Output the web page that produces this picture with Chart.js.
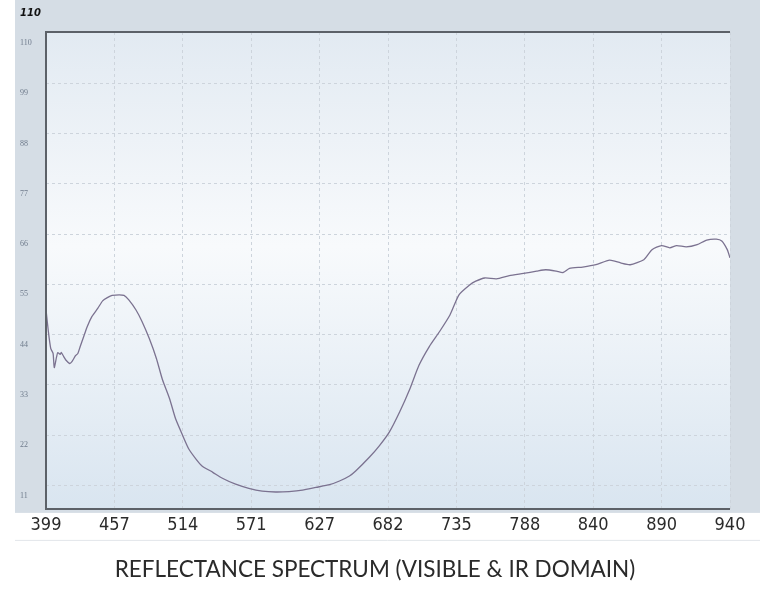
<!DOCTYPE html>
<html>
<head>
<meta charset="utf-8">
<script src="https://cdn.jsdelivr.net/npm/chart.js@4"></script>
<style>
  html, body { margin: 0; padding: 0; background: #ffffff; }
  #wrap { width: 760px; height: 595px; }
</style>
</head>
<body>
<div id="wrap"><canvas id="Spectrum"></canvas></div>
<script>
// tick labels (wavelength, nm) - spaced evenly on the detector axis
let xTickLabels = [399, 457, 514, 571, 627, 682, 735, 788, 840, 890, 940]
let yTickValues = [11, 22, 33, 44, 55, 66, 77, 88, 99, 110]

// reflectance curve
let wavelengths = [
    399, 401, 403, 405, 406, 408, 409, 411, 412, 414, 416, 419, 421, 424, 426, 428, 431, 434, 438, 443,
    447, 451, 455, 461, 465, 469, 475, 480, 486, 492, 497, 503, 508, 514, 519, 525, 530, 539, 547, 558,
    569, 580, 591, 602, 613, 624, 635, 643, 651, 656, 667, 675, 683, 691, 699, 706, 714, 722, 730, 737,
    745, 750, 757, 766, 776, 787, 797, 804, 812, 817, 822, 832, 842, 852, 860, 867, 877, 883, 890, 896,
    901, 908, 916, 923, 930, 934, 938, 940
]
let reflectance = [
    49.5, 44.7, 41.0, 39.9, 36.8, 39.2, 40.1, 39.7, 40.1, 39.2, 38.4, 37.7, 38.1, 39.4, 39.9, 41.4, 43.6, 45.8, 48.0, 49.8,
    51.4, 52.1, 52.6, 52.7, 52.6, 51.6, 49.4, 46.9, 43.2, 38.8, 34.2, 30.0, 25.6, 21.9, 19.0, 16.8, 15.3, 13.9, 12.6, 11.3,
    10.4, 9.8, 9.6, 9.7, 10.0, 10.6, 11.2, 12.0, 13.1, 14.2, 17.2, 19.7, 22.7, 27.1, 32.2, 37.3, 41.4, 44.7, 48.3, 52.7,
    54.8, 55.7, 56.4, 56.2, 56.9, 57.4, 57.9, 58.2, 57.9, 57.6, 58.5, 58.8, 59.3, 60.3, 59.7, 59.3, 60.4, 62.6, 63.5, 63.0,
    63.5, 63.2, 63.7, 64.7, 64.9, 64.5, 62.6, 60.8
]

// the wavelength axis is not linear: place each nm between its two tick labels
function nmToSlot(nm) {
    for (let i = 0; i < xTickLabels.length - 1; i++) {
        if (nm <= xTickLabels[i + 1]) {
            return i + (nm - xTickLabels[i]) / (xTickLabels[i + 1] - xTickLabels[i])
        }
    }
    return xTickLabels.length - 1
}

let points = wavelengths.map((nm, i) => ({ x: nmToSlot(nm), y: reflectance[i] }))

const backdrop = {
    id: 'backdrop',
    beforeDraw(chart) {
        const c = chart.ctx
        const a = chart.chartArea
        c.save()
        c.fillStyle = '#ffffff'
        c.fillRect(0, 0, chart.width, chart.height)
        c.fillStyle = '#d5dde5'
        c.fillRect(15, 0, chart.width - 15, a.bottom + 4)
        let g = c.createLinearGradient(0, a.top, 0, a.bottom)
        g.addColorStop(0, '#e2eaf2')
        g.addColorStop(0.45, '#f8fafc')
        g.addColorStop(1, '#d9e5f0')
        c.fillStyle = g
        c.fillRect(a.left, a.top, a.right - a.left, a.bottom - a.top)
        // faint rule under the wavelength labels
        c.strokeStyle = '#e2e6ea'
        c.lineWidth = 1
        c.beginPath()
        c.moveTo(15, a.bottom + 31.5)
        c.lineTo(chart.width, a.bottom + 31.5)
        c.stroke()
        c.restore()
    },
    afterDraw(chart) {
        const c = chart.ctx
        const a = chart.chartArea
        c.save()
        c.strokeStyle = '#5c6168'
        c.lineWidth = 2
        c.beginPath()
        c.moveTo(a.right, a.top)
        c.lineTo(a.left, a.top)
        c.lineTo(a.left, a.bottom)
        c.lineTo(a.right, a.bottom)
        c.stroke()
        c.restore()
    }
}

const ctx = document.getElementById('Spectrum')

let chart = new Chart(ctx, {
    type: 'line',
    data: {
        datasets: [{
            label: 'reflectance',
            data: points,
            borderColor: '#7b7290',
            borderWidth: 1.3,
            pointRadius: 0,
            tension: 0.2,
            fill: false
        }]
    },
    options: {
        animation: false,
        responsive: true,
        maintainAspectRatio: false,
        layout: { padding: { left: 20, right: 30, top: 0, bottom: 0 } },
        plugins: {
            legend: { display: false },
            tooltip: { enabled: false },
            subtitle: {
                display: true,
                text: '110',
                position: 'top',
                align: 'start',
                color: '#111111',
                font: { family: 'DejaVu Sans', size: 10, weight: 'bold', style: 'italic' },
                padding: { top: 7, bottom: 13 }
            },
            title: {
                display: true,
                text: 'REFLECTANCE SPECTRUM (VISIBLE & IR DOMAIN)',
                position: 'bottom',
                color: '#2a2a2a',
                font: { family: 'Lato', size: 22.5, weight: 'normal' },
                padding: { top: 14, bottom: 11.5 }
            }
        },
        scales: {
            x: {
                type: 'linear',
                min: 0,
                max: xTickLabels.length - 1,
                afterBuildTicks: (scale) => {
                    scale.ticks = xTickLabels.map((v, i) => ({ value: i }))
                },
                ticks: {
                    callback: (v) => xTickLabels[v],
                    color: '#2b2b2b',
                    font: { family: "'Liberation Sans Narrow', 'DejaVu Sans Condensed', 'Roboto'", size: 18 },
                    padding: 6,
                    maxRotation: 0,
                    autoSkip: false
                },
                grid: { color: '#cdd4dc', lineWidth: 1, tickLength: 0, drawTicks: false },
                border: { display: false, dash: [3, 3] }
            },
            y: {
                min: 5.9,
                max: 110.2,
                afterBuildTicks: (scale) => {
                    scale.ticks = yTickValues.map(v => ({ value: v }))
                },
                afterFit: (scale) => { scale.width = 26 },
                ticks: {
                    color: '#6f7b8c',
                    font: { family: 'Liberation Serif', size: 8 },
                    crossAlign: 'far',
                    labelOffset: 10,
                    padding: 4
                },
                grid: { color: '#cdd4dc', lineWidth: 1, drawTicks: false },
                border: { display: false, dash: [3, 3] }
            }
        }
    },
    plugins: [backdrop]
})
</script>
</body>
</html>
